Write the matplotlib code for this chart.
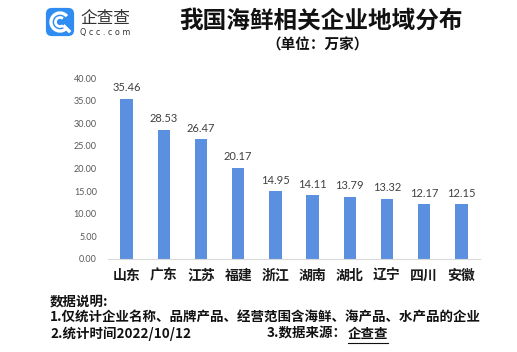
import matplotlib
matplotlib.use("Agg")
import matplotlib.pyplot as plt
from matplotlib.patches import FancyBboxPatch, Arc

plt.rcParams['font.family'] = ['Noto Sans CJK SC', 'DejaVu Sans']

regions = ['山东', '广东', '江苏', '福建', '浙江', '湖南', '湖北', '辽宁', '四川', '安徽']
counts = [35.46, 28.53, 26.47, 20.17, 14.95, 14.11, 13.79, 13.32, 12.17, 12.15]
yticks = [0, 5, 10, 15, 20, 25, 30, 35, 40]

W, H = 517, 352
fig = plt.figure(figsize=(W / 100, H / 100), dpi=100)
fig.patch.set_facecolor('white')

# main chart
ax = fig.add_axes([108 / W, 1 - 259 / H, 372 / W, 181 / H])
x = range(len(regions))
bars = ax.bar(x, counts, width=0.33, color='#5b8fe0')
ax.set_xlim(-0.5, len(regions) - 0.5)
ax.set_ylim(0, 40)
ax.set_yticks(yticks)
ax.set_yticklabels(['%.2f' % v for v in yticks], fontsize=6.5, color='#595959',
                   family=['Lato', 'DejaVu Sans'])
ax.set_xticks(list(x))
ax.set_xticklabels(regions, fontsize=10, fontweight='bold', color='#1a1a1a')
ax.tick_params(axis='both', length=0)
ax.tick_params(axis='y', pad=8)
ax.tick_params(axis='x', pad=7)
for s in ['top', 'right', 'left']:
    ax.spines[s].set_visible(False)
ax.spines['bottom'].set_color('#d9d9d9')
for b, v in zip(bars, counts):
    ax.text(b.get_x() + b.get_width() / 2, v + 1.2, '%.2f' % v, ha='center', va='bottom',
            fontsize=8, color='#404040', family=['Lato', 'DejaVu Sans'])

# logo
lax = fig.add_axes([45 / W, 1 - 37 / H, 30 / W, 30 / H])
lax.set_xlim(0, 1)
lax.set_ylim(0, 1)
lax.axis('off')
lax.add_patch(FancyBboxPatch((0.03, 0.03), 0.94, 0.94, boxstyle='round,pad=0,rounding_size=0.2',
                             fc='#2f8cf0', ec='none'))
lax.add_patch(Arc((0.5, 0.5), 0.6, 0.6, theta1=40, theta2=320, color='white', lw=2.4))
lax.add_patch(Arc((0.5, 0.5), 0.3, 0.3, theta1=50, theta2=310, color='white', lw=2))
lax.plot([0.65, 0.8], [0.35, 0.2], color='white', lw=2.4)
fig.text(80 / W, 1 - 18 / H, '企查查', fontsize=12, color='#333333', va='center', ha='left')
fig.text(80 / W, 1 - 32 / H, 'Q c c . c o m', fontsize=5.8, color='#333333', va='center', ha='left',
         family=['DejaVu Sans'])

# titles
fig.text(321 / W, 1 - 21 / H, '我国海鲜相关企业地域分布', fontsize=17, fontweight='bold',
         ha='center', va='center', color='#111111')
fig.text(318 / W, 1 - 45 / H, '（单位：万家）', fontsize=10.5, fontweight='bold',
         ha='center', va='center', color='#111111')

# notes
fs = 9.7
fig.text(50 / W, 1 - 302 / H, '数据说明:', fontsize=fs, fontweight='bold', va='center', color='#111111')
fig.text(50 / W, 1 - 318 / H, '1.仅统计企业名称、品牌产品、经营范围含海鲜、海产品、水产品的企业',
         fontsize=fs, fontweight='bold', va='center', color='#111111')
fig.text(50 / W, 1 - 334 / H, '2.统计时间2022/10/12', fontsize=fs, fontweight='bold',
         va='center', color='#111111')
fig.text(267 / W, 1 - 334 / H, '3.数据来源：', fontsize=fs, fontweight='bold',
         va='center', color='#111111')
fig.text(348 / W, 1 - 334 / H, '企查查', fontsize=fs, fontweight='bold', va='center', color='#111111')
fig.add_artist(plt.Line2D([348 / W, 388 / W], [1 - 343 / H, 1 - 343 / H], color='#111111', lw=0.8))

fig.savefig('out.png', dpi=100)
